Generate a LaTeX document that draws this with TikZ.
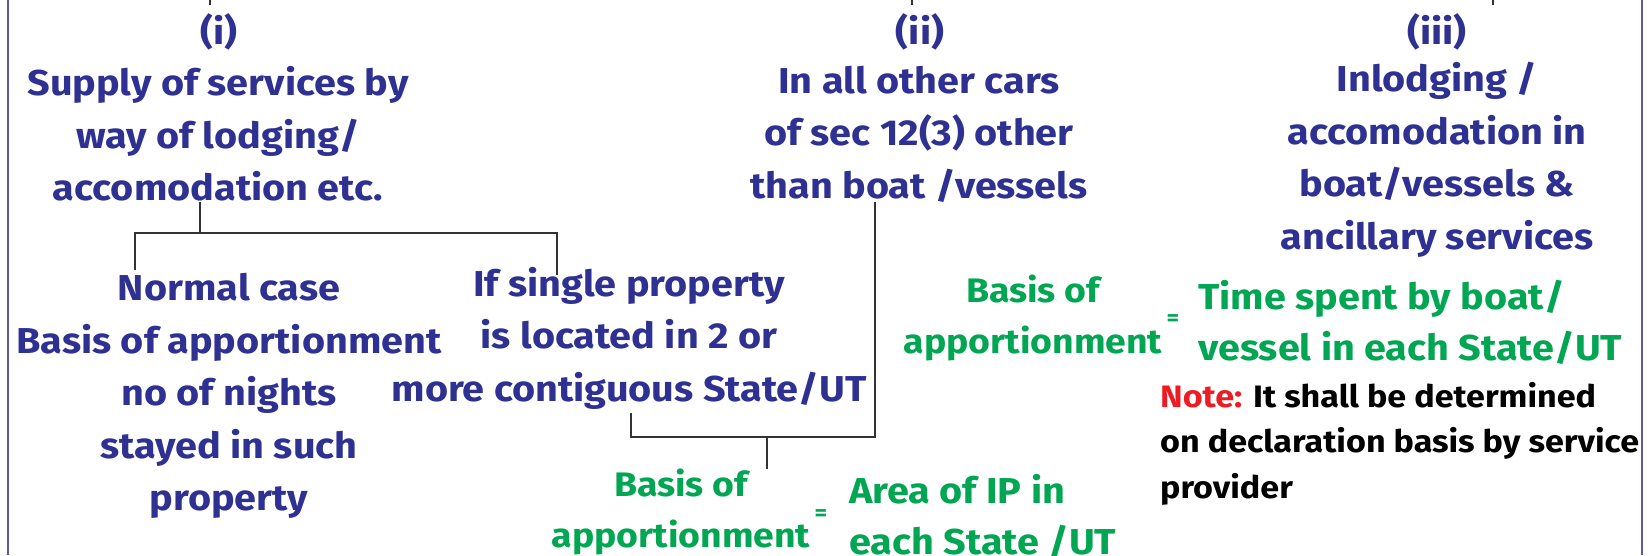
\documentclass[tikz,border=0pt]{standalone}
\usepackage{fontspec}
\setmainfont{Fira Sans}[FakeStretch=1.1]
\usetikzlibrary{positioning}
\definecolor{navy}{RGB}{46,49,146}
\definecolor{leaf}{RGB}{0,166,81}
\definecolor{notered}{RGB}{237,28,36}
\begin{document}
\begin{tikzpicture}[x=1pt,y=-1pt, every node/.style={inner sep=0pt},
  head/.style={text=navy,font=\fontsize{36}{52.5}\selectfont\bfseries,align=center},
  basis/.style={text=leaf,font=\fontsize{34}{51}\selectfont\bfseries,align=center},
  result/.style={text=leaf,font=\fontsize{36}{51}\selectfont\bfseries,align=left,anchor=west},
  equal/.style={text=leaf,font=\fontsize{22}{22}\selectfont\bfseries},
  tree/.style={draw=black!80,line width=1.1pt}]
  \useasboundingbox (0,0) rectangle (1648,555);
  % frame
  \draw[navy!80,line width=2pt] (8,0) -- (8,555);
  \draw[navy!80,line width=2pt] (1642,0) -- (1642,555);

  % the three cases
  \node[head] (c1) at (219,32) {(i)};
  \node[head] (lodge) at (218,134) {Supply of services by\\way of lodging/\\accomodation etc.};
  \node[head] (c2) at (920,32) {(ii)};
  \node[head] (other) at (919,134) {In all other cars\\of sec 12(3) other\\than boat /vessels};
  \node[head] (c3) at (1437,32) {(iii)};
  \node[head] (boat) at (1437,160) {Inlodging /\\accomodation in\\boat/vessels \&\\ancillary services};

  \node[head] (normal) at (229,396) {Normal case\\Basis of apportionment\\no of nights\\stayed in such\\property};
  \node[head] (single) at (629,338) {If single property\\is located in 2 or\\more contiguous State/UT};

  % basis of apportionment
  \node[basis] (bas3) at (1033,318) {Basis of\\apportionment};
  \node[equal] (eq3) at (1173,320) {=};
  \node[result] (time) at (1198,322) {Time spent by boat/\\vessel in each State/UT};
  \node[align=left,anchor=north west,font=\fontsize{31}{45.5}\selectfont\bfseries] (note) at (1160,382)
    {\textcolor{notered}{Note:} It shall be determined\\on declaration basis by service\\provider};

  \node[basis] (bas2) at (681,512) {Basis of\\apportionment};
  \node[equal] (eq2) at (821,515) {=};
  \node[result] (area) at (849,516) {Area of IP in\\each State /UT};

  % connectors
  \coordinate (t1) at (210,0);
  \coordinate (t2) at (912,0);
  \coordinate (t3) at (1493,0);
  \foreach \t in {t1,t2,t3} \draw[tree] (\t) -- ++(0,5);

  \coordinate (ja) at (200,233);
  \coordinate (nl) at (135,270);
  \coordinate (sl) at (557,275);
  \draw[tree] (ja |- lodge.south) -- (ja);
  \draw[tree] (nl) |- (ja) -| (sl);

  \coordinate (ob) at (875,437);
  \coordinate (mc) at (631,413);
  \coordinate (jb) at (767,437);
  \draw[tree] (ob |- other.south) -- (ob) -| (mc);
  \draw[tree] (jb) -- (jb |- bas2.north);
\end{tikzpicture}
\end{document}
